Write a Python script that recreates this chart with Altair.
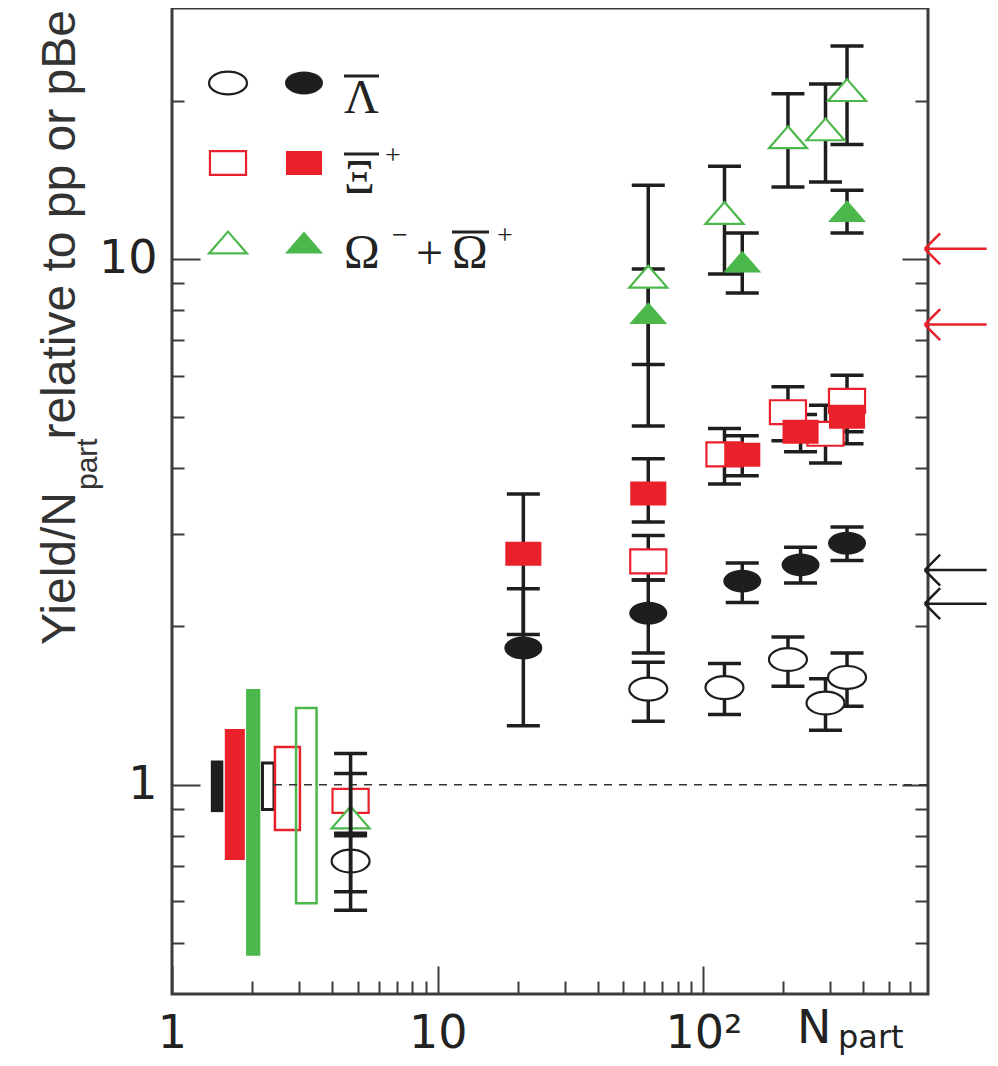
import altair as alt
import pandas as pd

# ---------------- data ----------------
# anti-Lambda
lam_open_N = [4.7, 62, 120, 208, 288, 347]
lam_open_v = [0.716, 1.52, 1.53, 1.73, 1.43, 1.60]
lam_open_lo = [0.626, 1.32, 1.36, 1.54, 1.27, 1.41]
lam_open_hi = [0.80, 1.71, 1.70, 1.91, 1.59, 1.78]
lam_fill_N = [21, 62, 140, 232, 347]
lam_fill_v = [1.82, 2.12, 2.44, 2.62, 2.88]
lam_fill_lo = [1.295, 1.78, 2.22, 2.42, 2.67]
lam_fill_hi = [2.36, 2.45, 2.64, 2.83, 3.09]
# anti-Xi+
xi_open_N = [4.7, 62, 120, 208, 288, 347]
xi_open_v = [0.932, 2.66, 4.25, 5.11, 4.65, 5.37]
xi_open_lo = [0.809, 2.45, 3.73, 4.51, 4.09, 4.69]
xi_open_hi = [1.05, 2.98, 4.76, 5.71, 5.27, 6.01]
xi_fill_N = [21, 62, 140, 232, 347]
xi_fill_v = [2.75, 3.58, 4.24, 4.69, 5.01]
xi_fill_lo = [1.93, 3.16, 3.87, 4.30, 4.45]
xi_fill_hi = [3.57, 4.17, 4.61, 5.06, 5.59]
# Omega- + anti-Omega+
om_open_N = [4.7, 62, 120, 208, 288, 347]
om_open_v = [0.865, 9.23, 12.2, 17.0, 17.6, 20.9]
om_open_lo = [0.577, 4.81, 9.36, 13.7, 14.0, 16.5]
om_open_hi = [1.146, 13.8, 15.0, 20.6, 21.5, 25.4]
om_fill_N = [62, 140, 347]
om_fill_v = [7.87, 9.86, 12.3]
om_fill_lo = [6.30, 8.61, 11.2]
om_fill_hi = [9.57, 11.2, 13.5]

# normalisation (systematic) boxes near Npart ~ 1-3
sys_kind = ["lam_fill", "xi_fill", "om_fill", "lam_open", "xi_open", "om_open"]
sys_x1 = [1.40, 1.58, 1.90, 2.19, 2.44, 2.93]
sys_x2 = [1.56, 1.88, 2.15, 2.42, 3.03, 3.50]
sys_lo = [0.887, 0.719, 0.473, 0.897, 0.82, 0.595]
sys_hi = [1.112, 1.277, 1.52, 1.10, 1.18, 1.40]

# reference line at 1
ref_x = [2.42, 700]
ref_y = 1.0

# arrows on the right edge
arrow_N = 680
arrow_red_v = [10.45, 7.50]
arrow_black_v = [2.56, 2.21]

# tick values
x_major = [1, 10, 100]
x_minor = [2, 3, 4, 5, 6, 7, 8, 9, 20, 30, 40, 50, 60, 70, 80, 90, 200, 300, 400, 500, 600]
y_major = [1, 10]
y_minor = [0.5, 0.6, 0.7, 0.8, 0.9, 2, 3, 4, 5, 6, 7, 8, 9, 20]

# ---------------- styling ----------------
BLACK = "#1e1e1e"
RED = "#e8212b"
GREEN = "#4cb84c"
TICK = "#3a3a3a"
W, H = 756, 986

XS = alt.Scale(type="log", domain=[1, 700], nice=False)
YS = alt.Scale(type="log", domain=[0.4, 30], nice=False)

ELLIPSE = "M-1,0 A1,0.6 0 1,1 1,0 A1,0.6 0 1,1 -1,0 Z"
RECT = "M-0.95,-0.63 L0.95,-0.63 L0.95,0.63 L-0.95,0.63 Z"
TRI = "M0,-0.6 L1,0.55 L-1,0.55 Z"
ARROW = "M0,0 L2,0 M0,0 L0.5,-0.5 M0,0 L0.5,0.5"
MS = 1444

NUMFONT = "DejaVu Sans"
TITLEFONT = "Liberation Sans"
GREEKFONT = "Liberation Serif, DejaVu Serif"


def tick_axis(orient, values, size):
    return alt.Axis(orient=orient, values=values, domain=False, grid=False, title=None,
                    labels=False, ticks=True, tickSize={"expr": str(-size)},
                    tickColor=TICK, tickWidth=2)


def label_axis(orient, values, expr, pad):
    return alt.Axis(orient=orient, values=values, domain=False, grid=False, title=None,
                    ticks=False, labels=True, labelExpr=expr, labelFont=NUMFONT,
                    labelFontSize=46, labelColor="#222", labelPadding=pad,
                    labelFlush=False, labelOverlap=False)


# ---------------- systematic boxes ----------------
sys_df = pd.DataFrame({"kind": sys_kind, "x1": sys_x1, "x2": sys_x2, "lo": sys_lo, "hi": sys_hi})
fill_colors = {"lam_fill": BLACK, "xi_fill": RED, "om_fill": GREEN}
open_colors = {"lam_open": BLACK, "xi_open": RED, "om_open": GREEN}

box_layers = []
first = True
for k, c in fill_colors.items():
    d = sys_df[sys_df.kind == k]
    box_layers.append(
        alt.Chart(d).mark_rect(color=c, opacity=1).encode(
            x=alt.X("x1:Q", scale=XS, axis=tick_axis("bottom", x_minor, 13) if first else None),
            x2="x2:Q",
            y=alt.Y("lo:Q", scale=YS, axis=tick_axis("left", y_minor, 12) if first else None),
            y2="hi:Q",
        )
    )
    first = False
first = True
for k, c in open_colors.items():
    d = sys_df[sys_df.kind == k]
    box_layers.append(
        alt.Chart(d).mark_rect(filled=False, stroke=c, strokeWidth=3 if k == "lam_open" else 2.5,
                               fillOpacity=0, opacity=1).encode(
            x=alt.X("x1:Q", scale=XS, axis=None),
            x2="x2:Q",
            y=alt.Y("lo:Q", scale=YS, axis=tick_axis("right", y_minor, 13) if first else None),
            y2="hi:Q",
        )
    )
    first = False

# ---------------- dashed reference line (carries labels) ----------------
ref_df = pd.DataFrame({"xa": [ref_x[0]], "xb": [ref_x[1]], "y": [ref_y]})
ref_layer = alt.Chart(ref_df).mark_rule(color="#333", strokeWidth=1.6, strokeDash=[8, 7]).encode(
    x=alt.X("xa:Q", scale=XS,
            axis=label_axis("bottom", x_major,
                            "datum.value == 1 ? '1' : datum.value == 10 ? '10' : '10\u00b2'", 17)),
    x2="xb:Q",
    y=alt.Y("y:Q", scale=YS,
            axis=label_axis("left", y_major, "datum.value == 1 ? '1' : '10'", 15)),
)

# ---------------- error bars ----------------
series = [
    (lam_open_N, lam_open_v, lam_open_lo, lam_open_hi),
    (xi_open_N, xi_open_v, xi_open_lo, xi_open_hi),
    (om_open_N, om_open_v, om_open_lo, om_open_hi),
    (lam_fill_N, lam_fill_v, lam_fill_lo, lam_fill_hi),
    (xi_fill_N, xi_fill_v, xi_fill_lo, xi_fill_hi),
    (om_fill_N, om_fill_v, om_fill_lo, om_fill_hi),
]
bar_rows, pbe_rows = [], []
for N, v, lo, hi in series:
    for n, l, h in zip(N, lo, hi):
        (pbe_rows if n < 10 else bar_rows).append({"N": n, "lo": l, "hi": h})
bars_df = pd.DataFrame(bar_rows)
pbe_df = pd.DataFrame(pbe_rows)


def caps_of(df):
    return pd.DataFrame({"N": list(df.N) * 2, "y": list(df.lo) + list(df.hi)})


bar_layer = alt.Chart(bars_df).mark_rule(color=BLACK, strokeWidth=3.5).encode(
    x=alt.X("N:Q", scale=XS, axis=tick_axis("bottom", x_major, 28)),
    y=alt.Y("lo:Q", scale=YS, axis=tick_axis("left", y_major, 28)),
    y2="hi:Q",
)
cap_layer = alt.Chart(caps_of(bars_df)).mark_tick(orient="horizontal", size=33, thickness=3.5,
                                                  color=BLACK, opacity=1).encode(
    x=alt.X("N:Q", scale=XS, axis=None),
    y=alt.Y("y:Q", scale=YS, axis=tick_axis("right", y_major, 26)),
)
pbe_bar_layer = alt.Chart(pbe_df).mark_rule(color=BLACK, strokeWidth=3.5).encode(
    x=alt.X("N:Q", scale=XS, axis=None),
    y=alt.Y("lo:Q", scale=YS, axis=None),
    y2="hi:Q",
)
pbe_cap_layer = alt.Chart(caps_of(pbe_df)).mark_tick(orient="horizontal", size=33, thickness=3.5,
                                                     color=BLACK, opacity=1).encode(
    x=alt.X("N:Q", scale=XS, axis=None),
    y=alt.Y("y:Q", scale=YS, axis=None),
)


# ---------------- markers ----------------
def mark_def(shape, color, open_):
    if open_:
        return dict(shape=shape, size=MS, filled=True, fill="white", stroke=color,
                    strokeWidth=2.2, opacity=1)
    return dict(shape=shape, size=MS, filled=True, fill=color, strokeWidth=0, opacity=1)


marker_specs = [
    (lam_open_N, lam_open_v, ELLIPSE, BLACK, True),
    (xi_open_N, xi_open_v, RECT, RED, True),
    (om_open_N, om_open_v, TRI, GREEN, True),
    (lam_fill_N, lam_fill_v, ELLIPSE, BLACK, False),
    (xi_fill_N, xi_fill_v, RECT, RED, False),
    (om_fill_N, om_fill_v, TRI, GREEN, False),
]
marker_layers = []
for N, v, shp, col, op in marker_specs:
    marker_layers.append(
        alt.Chart(pd.DataFrame({"N": N, "v": v})).mark_point(**mark_def(shp, col, op)).encode(
            x=alt.X("N:Q", scale=XS, axis=None),
            y=alt.Y("v:Q", scale=YS, axis=None),
        )
    )

# ---------------- arrows ----------------
arrow_layers = []
for vals, col in [(arrow_red_v, RED), (arrow_black_v, BLACK)]:
    arrow_layers.append(
        alt.Chart(pd.DataFrame({"N": [arrow_N] * len(vals), "v": vals})).mark_point(
            shape=ARROW, size=3844, filled=False, color=col, strokeWidth=2.5, opacity=1
        ).encode(
            x=alt.X("N:Q", scale=XS, axis=None),
            y=alt.Y("v:Q", scale=YS, axis=None),
        )
    )

# ---------------- legend & texts ----------------
ONE = pd.DataFrame({"k": [0]})
legend_layers = []
legend_rows = [(ELLIPSE, BLACK, 75), (RECT, RED, 155), (TRI, GREEN, 235)]
for shp, col, yy in legend_rows:
    legend_layers.append(alt.Chart(ONE).mark_point(**mark_def(shp, col, True)).encode(
        x=alt.value(56), y=alt.value(yy)))
    legend_layers.append(alt.Chart(ONE).mark_point(**mark_def(shp, col, False)).encode(
        x=alt.value(132), y=alt.value(yy)))


def text(txt, x, y, size, font, angle=0, align="left", color="#222"):
    return alt.Chart(ONE).mark_text(text=txt, font=font, fontSize=size, angle=angle,
                                    align=align, baseline="alphabetic", color=color).encode(
        x=alt.value(x), y=alt.value(y))


def overline(x1, x2, y):
    return alt.Chart(ONE).mark_rule(color="#222", strokeWidth=3).encode(
        x=alt.value(x1), x2=alt.value(x2), y=alt.value(y))


text_layers = [
    # legend labels
    text("\u039b", 172, 105, 48, GREEKFONT),
    overline(172, 207, 68),
    text("\u039e", 172, 185, 48, GREEKFONT),
    overline(172, 207, 146),
    text("+", 213, 156, 28, GREEKFONT),
    text("\u03a9", 172, 260, 48, GREEKFONT),
    text("\u2212", 220, 236, 28, GREEKFONT),
    text("+", 244, 261, 48, GREEKFONT),
    text("\u03a9", 280, 260, 48, GREEKFONT),
    overline(280, 317, 224),
    text("+", 325, 236, 28, GREEKFONT),
    # x-axis title N_part
    text("N", 625, 1035, 46, NUMFONT),
    text("part", 666, 1040, 32, NUMFONT),
    # y-axis title Yield/N_part relative to pp or pBe
    text("Yield/N", -97, 484, 48, TITLEFONT, angle=270, align="right", color="#333"),
    text("part", -75, 482, 30, TITLEFONT, angle=270, align="left", color="#333"),
    text("relative to pp or pBe", -97, 2, 48, TITLEFONT, angle=270, align="right", color="#333"),
]

chart = alt.layer(
    *box_layers, ref_layer, bar_layer, cap_layer, *marker_layers,
    pbe_bar_layer, pbe_cap_layer, *arrow_layers, *legend_layers, *text_layers
).resolve_axis(
    x="independent", y="independent"
).properties(
    width=W, height=H,
    padding={"left": 164, "top": 0, "right": 62, "bottom": 70},
    autosize=alt.AutoSizeParams(type="none"),
    background="white",
).configure_view(
    stroke="#3c3c3c", strokeWidth=3
)

chart.save("out.html", embed_options={"renderer": "svg", "actions": False})
